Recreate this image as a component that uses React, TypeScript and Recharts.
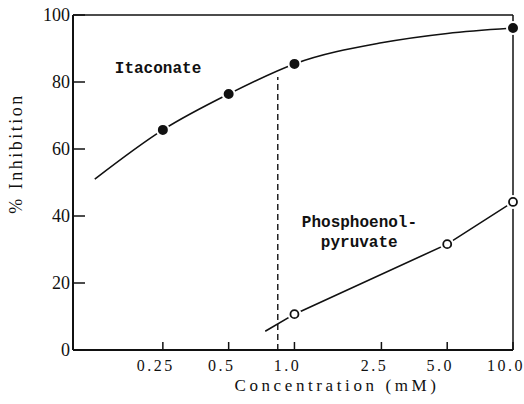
import { LineChart, Line, XAxis, YAxis, ReferenceLine, ReferenceDot, Label } from 'recharts'

// axis ticks
const xTicks = [0.25, 0.5, 1.0, 2.5, 5.0, 10.0]
const xTickLabels = ['0.25', '0.5', '1.0', '2.5', '5.0', '10.0']
const yTicks = [0, 20, 40, 60, 80, 100]

// measured points (% inhibition vs mM)
const itaconateConc = [0.25, 0.5, 1.0, 10.0]
const itaconateInhib = [65.7, 76.4, 85.4, 96.1]
const pepConc = [1.0, 5.0, 10.0]
const pepInhib = [10.7, 31.6, 44.2]

// hand drawn fit lines
const itaconateCurveConc = [0.122, 0.25, 0.5, 1.0, 2.5, 5.0, 10.0]
const itaconateCurveInhib = [51, 65.7, 76.4, 85.4, 91.7, 94.5, 96.1]
const pepLineConc = [0.735, 1.0, 5.0, 10.0]
const pepLineInhib = [5.6, 10.7, 31.6, 44.2]

// dashed drop line from the itaconate curve
const dropConc = [0.839, 0.839]
const dropInhib = [0, 81.5]

const zip = (xs: number[], ys: number[]) => xs.map((x, i) => ({ x, y: ys[i] }))

const itaconatePts = zip(itaconateConc, itaconateInhib)
const pepPts = zip(pepConc, pepInhib)
const itaconateCurve = zip(itaconateCurveConc, itaconateCurveInhib)
const pepLine = zip(pepLineConc, pepLineInhib)
const dropLine = zip(dropConc, dropInhib)

const SERIF = '"Liberation Serif", "Times New Roman", serif'
const MONO = '"Liberation Mono", "Courier New", monospace'
const INK = '#111'

const fmtX = (v: number) => xTickLabels[xTicks.indexOf(v)] ?? String(v)

// ticks point into the plot, so draw line + label ourselves
function XTick({ x, y, payload }: any) {
  const axisY = y - 10
  return (
    <g>
      <line x1={x} x2={x} y1={axisY} y2={axisY - 8} stroke={INK} strokeWidth={1.5} />
      <text x={x - 7} y={y} dy="0.71em" textAnchor="middle" fill={INK} fontSize={16}
        fontFamily={SERIF} letterSpacing={2.5}>{fmtX(payload.value)}</text>
    </g>
  )
}

function YTick({ x, y, payload }: any) {
  const axisX = x + 3
  return (
    <g>
      <line x1={axisX} x2={axisX + 12} y1={y} y2={y} stroke={INK} strokeWidth={1.5} />
      <text x={x} y={y} dy="0.355em" textAnchor="end" fill={INK} fontSize={18}
        fontFamily={SERIF}>{payload.value}</text>
    </g>
  )
}

export default function App() {
  return (
    <div style={{ width: 524, height: 404 }}>
      <style>{'body{margin:0}'}</style>
      <LineChart width={524} height={404} margin={{ top: 15, right: 11, bottom: 0, left: 0 }}>
        <XAxis
          dataKey="x" type="number" scale="log" domain={[0.097, 10]}
          ticks={xTicks} height={54} tickSize={0} tickMargin={10} tickLine={false}
          axisLine={{ stroke: INK, strokeWidth: 2 }} tick={<XTick />}
        >
          <Label content={({ viewBox }: any) => {
            const vb = viewBox || { x: 73, y: 350, width: 440 }
            return (
              <text x={vb.x + vb.width / 2 + 44} y={vb.y + 41} textAnchor="middle" fill={INK}
                fontSize={17} fontFamily={SERIF} letterSpacing={3.6}>Concentration (mM)</text>
            )
          }} />
        </XAxis>
        <YAxis
          dataKey="y" type="number" domain={[0, 100]} ticks={yTicks} width={73}
          tickSize={0} tickMargin={3} tickLine={false}
          axisLine={{ stroke: INK, strokeWidth: 2 }} tick={<YTick />}
        >
          <Label content={({ viewBox }: any) => {
            const vb = viewBox || { x: 0, y: 15, width: 73, height: 335 }
            const cy = vb.y + vb.height / 2 - 29
            return (
              <text x={22} y={cy} transform={`rotate(-90, 22, ${cy})`} textAnchor="middle" fill={INK}
                fontSize={18} fontFamily={SERIF} letterSpacing={2.5}>% Inhibition</text>
            )
          }} />
        </YAxis>

        <ReferenceLine y={100} stroke={INK} strokeWidth={1.5} />
        <ReferenceLine x={10} stroke={INK} strokeWidth={1.5} />

        <Line data={itaconateCurve} dataKey="y" type="monotone" stroke={INK} strokeWidth={1.6}
          dot={false} isAnimationActive={false} />
        <Line data={pepLine} dataKey="y" type="linear" stroke={INK} strokeWidth={1.6}
          dot={false} isAnimationActive={false} />
        <Line data={dropLine} dataKey="y" type="linear" stroke={INK} strokeWidth={1.4}
          strokeDasharray="6 4" dot={false} isAnimationActive={false} />

        {/* white halos so the fits break around the markers */}
        <Line data={pepPts} dataKey="y" stroke="none" isAnimationActive={false}
          dot={{ r: 7, fill: '#fff', stroke: 'none' }} />
        <Line data={itaconatePts} dataKey="y" stroke="none" isAnimationActive={false}
          dot={{ r: 6, fill: INK, stroke: '#fff', strokeWidth: 2 }} />
        <Line data={pepPts} dataKey="y" stroke="none" isAnimationActive={false}
          dot={{ r: 4, fill: '#fff', stroke: INK, strokeWidth: 1.8 }} />

        <ReferenceDot x={0.1507} y={84.4} r={0} stroke="none" fill="none"
          label={{ value: 'Itaconate', position: 'right', offset: 0, fill: INK, fontSize: 16, fontFamily: MONO, fontWeight: 700 }} />
        <ReferenceDot x={1.081} y={38.4} r={0} stroke="none" fill="none"
          label={{ value: 'Phosphoenol-', position: 'right', offset: 0, fill: INK, fontSize: 16, fontFamily: MONO, fontWeight: 700 }} />
        <ReferenceDot x={1.321} y={32.4} r={0} stroke="none" fill="none"
          label={{ value: 'pyruvate', position: 'right', offset: 0, fill: INK, fontSize: 16, fontFamily: MONO, fontWeight: 700 }} />
      </LineChart>
    </div>
  )
}
